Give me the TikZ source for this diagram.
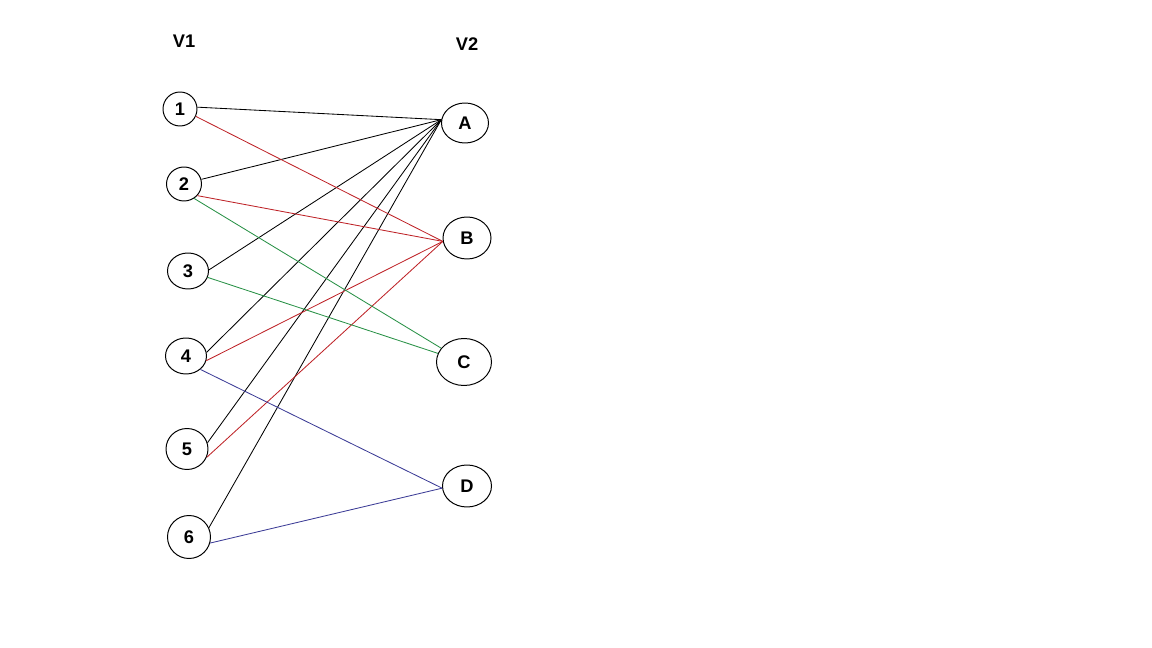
\documentclass[tikz,border=0pt]{standalone}
\usepackage{fontspec}
\setmainfont{Liberation Sans}
\usepackage{tikz}
\usetikzlibrary{shapes.geometric}
\definecolor{edgeRed}{RGB}{190,35,40}
\definecolor{edgeGreen}{RGB}{40,145,70}
\definecolor{edgeBlue}{RGB}{60,60,150}
\tikzset{
  vertex/.style={ellipse,draw=black,line width=0.7pt,inner sep=0pt,font=\bfseries\fontsize{13}{15}\selectfont},
  set label/.style={font=\bfseries\fontsize{13}{15}\selectfont},
  edge black/.style={draw=black,line width=0.6pt},
  edge red/.style={draw=edgeRed,line width=0.6pt},
  edge green/.style={draw=edgeGreen,line width=0.6pt},
  edge blue/.style={draw=edgeBlue,line width=0.6pt}
}
\begin{document}
\begin{tikzpicture}[x=0.025cm,y=-0.025cm]
  \useasboundingbox (0,0) rectangle (1152,648);
  % set labels
  \node[set label] (lblV1) at (184,41) {V1};
  \node[set label] (lblV2) at (467,44) {V2};
  % left side
  \node[vertex,minimum width=34*0.025cm,minimum height=34*0.025cm] (v1) at (180,109) {1};
  \node[vertex,minimum width=35*0.025cm,minimum height=34*0.025cm] (v2) at (184,184) {2};
  \node[vertex,minimum width=41*0.025cm,minimum height=36*0.025cm] (v3) at (188,271) {3};
  \node[vertex,minimum width=41*0.025cm,minimum height=36*0.025cm] (v4) at (186,356) {4};
  \node[vertex,minimum width=42*0.025cm,minimum height=41*0.025cm] (v5) at (187,449) {5};
  \node[vertex,minimum width=43*0.025cm,minimum height=43*0.025cm] (v6) at (189,537) {6};
  % right side
  \node[vertex,minimum width=47*0.025cm,minimum height=40*0.025cm] (vA) at (465,123) {A};
  \node[vertex,minimum width=48*0.025cm,minimum height=42*0.025cm] (vB) at (467,238) {B};
  \node[vertex,minimum width=55*0.025cm,minimum height=47*0.025cm] (vC) at (464,362) {C};
  \node[vertex,minimum width=49*0.025cm,minimum height=42*0.025cm] (vD) at (467,486) {D};
  % edges to A
  \foreach \v/\a in {v1/6,v2/15,v3/3,v4/10,v5/17,v6/25}
    \draw[edge black] (\v.\a) -- (vA.172);
  % edges to B
  \foreach \v/\a in {v1/-25,v2/-41,v4/-13,v5/-23}
    \draw[edge red] (\v.\a) -- (vB.188);
  % edges to C
  \draw[edge green] (v2.-55) -- (vC);
  \draw[edge green] (v3.-18) -- (vC);
  % edges to D
  \draw[edge blue] (v4.-43) -- (vD.185);
  \draw[edge blue] (v6.-16) -- (vD.185);
\end{tikzpicture}
\end{document}
